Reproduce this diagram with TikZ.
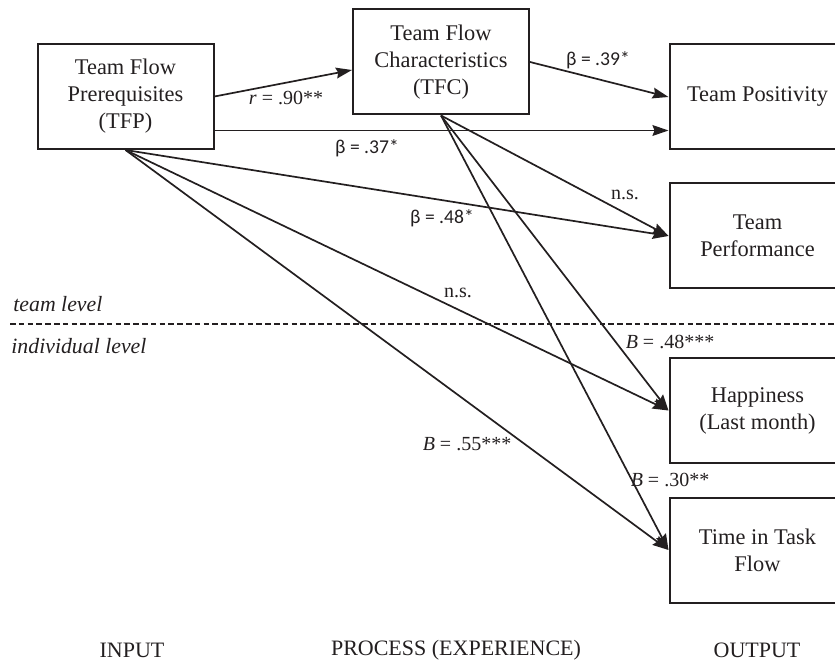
\documentclass[tikz,border=0pt]{standalone}
\usepackage{fontspec}
\setmainfont{Liberation Serif}
\newfontfamily\greekfont{Carlito}
\usetikzlibrary{arrows.meta}
\definecolor{ink}{RGB}{35,31,32}
\tikzset{
	factor/.style={draw=ink, line width=1pt, minimum width=88pt, minimum height=52.5pt,
		inner sep=0pt, align=center, text=ink, font=\fontsize{11.2}{13.5}\selectfont},
	link/.style={draw=ink, line width=0.85pt, -{Stealth[length=8pt,width=5.4pt,inset=1pt]}},
	coef/.style={text=ink, inner sep=0pt, font=\fontsize{10}{12}\selectfont},
	betacoef/.style={text=ink, inner sep=0pt, font=\greekfont\fontsize{9.8}{12}\selectfont},
	levelname/.style={text=ink, inner sep=0pt, anchor=west, font=\itshape\fontsize{10.9}{13}\selectfont},
	stage/.style={text=ink, inner sep=0pt, font=\fontsize{11}{13}\selectfont}
}
\begin{document}
\begin{tikzpicture}[x=0.5pt,y=-0.5pt]
	\useasboundingbox (0,0) rectangle (835,662);
	\clip (0,0) rectangle (835,662);

	% constructs
	\path (125.5,96.5) node[factor] (tfp) {Team Flow\\Prerequisites\\(TFP)};
	\path (441,62) node[factor] (tfc) {Team Flow\\Characteristics\\(TFC)};
	\path (757.5,97) node[factor] (tpos) {Team Positivity};
	\path (757.5,236) node[factor] (tperf) {Team\\Performance};
	\path (757.5,410.5) node[factor] (happy) {Happiness\\(Last month)};
	\path (757.5,550) node[factor] (tflow) {Time in Task\\Flow};

	% paths
	\draw[link] (tfp.east) -- ([yshift=-4pt]tfc.west);
	\draw[link] ([yshift=-17pt]tfp.east) -- ([yshift=-17pt]tfp.east -| tpos.west);
	\draw[link] (tfc.east) -- (tpos.west);
	\foreach \target in {tperf,happy,tflow} {
		\draw[link] (tfp.south) -- (\target.west);
		\draw[link] (tfc.south) -- (\target.west);
	}

	% coefficients
	\path (286,98) node[coef] (rcorr) {\textit{r} = .90**};
	\path (367,148) node[betacoef] (bpos) {β = .37*};
	\path (598,60) node[betacoef] (bposc) {β = .39*};
	\path (442,218) node[betacoef] (bperf) {β = .48*};
	\path (625,195) node[coef] (nsperf) {n.s.};
	\path (458,293) node[coef] (nshappy) {n.s.};
	\path (670,342) node[coef] (bhappy) {\textit{B} = .48***};
	\path (467,444) node[coef] (bflowp) {\textit{B} = .55***};
	\path (670,480) node[coef] (bflowc) {\textit{B} = .30**};

	% levels
	\draw[ink, line width=0.9pt, dash pattern=on 2.8pt off 1.6pt] (10,324) -- (835,324);
	\path (13,304) node[levelname] (teamlvl) {team level};
	\path (11,346) node[levelname] (indivlvl) {individual level};

	% stages
	\path (132,650) node[stage] (input) {INPUT};
	\path (456,650) node[stage] (process) {PROCESS (EXPERIENCE)};
	\path (757,650) node[stage] (output) {OUTPUT};
\end{tikzpicture}
\end{document}
